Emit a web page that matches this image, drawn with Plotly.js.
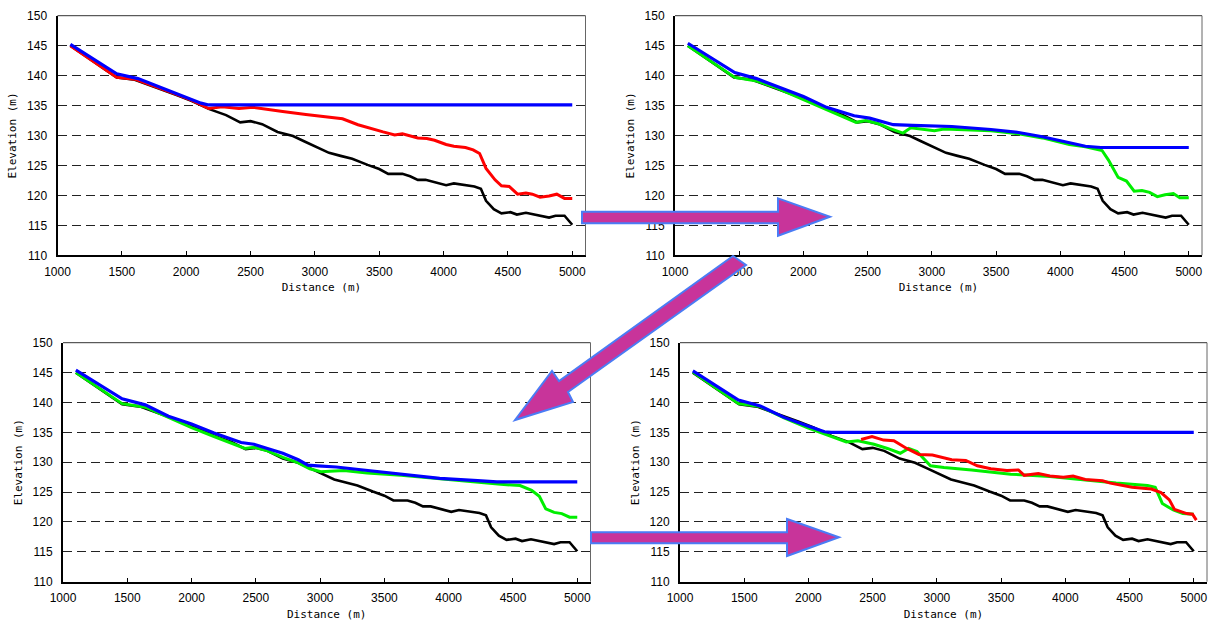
<!DOCTYPE html>
<html>
<head>
<meta charset="utf-8">
<script src="https://cdn.plot.ly/plotly-3.0.1.min.js"></script>
<style>html,body{margin:0;padding:0;background:#fff;}#chart{width:1214px;height:626px;}</style>
</head>
<body>
<div id="chart"></div>
<script>
// ---- Data ----
// River bed profile (black) - same in every panel
var bedDist = [1100,1460,1600,1680,1800,1920,2040,2180,2310,2420,2500,2590,2710,2830,2920,3020,3110,3200,3290,3410,3500,3570,3680,3740,3800,3860,3950,4020,4080,4180,4240,4290,4330,4390,4450,4520,4570,4640,4720,4820,4870,4940,5000];
var bedElev = [145.0,139.7,139.3,138.7,137.8,136.8,135.8,134.4,133.4,132.2,132.4,131.9,130.6,129.9,129.0,128.0,127.1,126.6,126.1,125.1,124.4,123.6,123.6,123.2,122.6,122.6,122.1,121.7,122.0,121.7,121.5,121.1,119.1,117.7,117.0,117.2,116.8,117.1,116.7,116.3,116.6,116.6,115.1];

// Panel 1 (top-left)
var p1BlueDist = [1100,1460,1625,1745,1865,1980,2115,2175,5000];
var p1BlueElev = [145.2,140.3,139.5,138.5,137.6,136.6,135.4,135.1,135.1];
var p1RedDist = [1100,1460,1600,1680,1800,1920,2040,2175,2280,2410,2520,2600,2750,2930,3080,3215,3335,3440,3530,3620,3680,3800,3870,3930,4020,4080,4170,4230,4280,4330,4400,4450,4510,4575,4640,4690,4750,4820,4880,4940,5000];
var p1RedElev = [145.0,139.7,139.4,138.8,137.9,136.9,135.9,134.5,134.8,134.5,134.7,134.5,134.0,133.5,133.1,132.8,131.8,131.1,130.6,130.1,130.3,129.6,129.5,129.2,128.5,128.2,128.0,127.6,127.0,124.5,122.6,121.6,121.5,120.2,120.4,120.2,119.7,119.9,120.2,119.5,119.5];

// Panel 2 (top-right)
var p2BlueDist = [1100,1465,1635,1785,2000,2180,2395,2515,2700,2850,3155,3460,3675,3860,4070,4195,4315,5000];
var p2BlueElev = [145.4,140.5,139.5,138.3,136.5,134.7,133.3,132.9,131.8,131.7,131.5,131.0,130.5,129.8,128.8,128.2,128.0,128.0];
var p2GreenDist = [1100,1465,1635,1785,2000,2180,2410,2485,2580,2670,2775,2835,2915,3020,3095,3310,3460,3675,3860,4070,4195,4325,4375,4450,4515,4575,4635,4695,4755,4815,4880,4930,5000];
var p2GreenElev = [145.0,139.7,139.1,138.0,136.0,134.3,132.2,132.5,132.0,131.2,130.4,131.3,131.1,130.8,131.1,130.9,130.8,130.3,129.6,128.5,128.1,127.5,125.9,123.0,122.4,120.7,120.8,120.5,119.8,120.1,120.3,119.6,119.6];

// Panel 3 (bottom-left)
var p3BlueDist = [1100,1460,1640,1820,2000,2175,2385,2485,2590,2710,2830,2905,2980,3125,3335,3630,3930,4225,4375,5000];
var p3BlueElev = [145.4,140.6,139.6,137.7,136.4,134.9,133.3,133.0,132.3,131.5,130.4,129.5,129.4,129.2,128.7,128.0,127.3,126.9,126.7,126.7];
var p3GreenDist = [1100,1460,1640,1820,2000,2175,2415,2485,2590,2710,2830,2920,3005,3185,3365,3630,3930,4225,4405,4555,4645,4705,4755,4820,4880,4940,5000];
var p3GreenElev = [145.0,139.8,139.2,137.5,135.8,134.3,132.3,132.5,131.9,130.8,129.9,128.9,128.4,128.6,128.2,127.8,127.2,126.6,126.3,126.1,125.3,124.3,122.2,121.6,121.4,120.8,120.8];

// Panel 4 (bottom-right)
var p4BlueDist = [1100,1455,1625,1810,1990,2125,2175,5000];
var p4BlueElev = [145.3,140.4,139.4,137.5,136.1,135.1,135.0,135.0];
var p4GreenDist = [1100,1455,1625,1810,1990,2175,2295,2385,2510,2615,2715,2780,2845,2950,3055,3270,3575,3880,4185,4395,4640,4700,4755,4840,4915,5000];
var p4GreenElev = [145.1,139.8,139.3,137.4,135.8,134.4,133.4,133.6,133.0,132.3,131.5,132.3,131.8,129.4,129.1,128.7,128.0,127.6,126.9,126.5,126.1,125.8,123.1,122.0,121.4,121.3];
var p4RedDist = [2410,2495,2585,2665,2765,2860,2965,3115,3225,3315,3420,3545,3635,3680,3790,3880,3985,4060,4155,4290,4350,4520,4670,4745,4810,4850,4945,4990,5020];
var p4RedElev = [133.8,134.3,133.7,133.6,132.3,131.3,131.2,130.4,130.3,129.4,128.9,128.6,128.7,127.8,128.1,127.7,127.5,127.7,127.1,126.9,126.5,125.8,125.5,124.9,123.7,122.1,121.4,121.3,120.3];

var xTickVals = [1000,1500,2000,2500,3000,3500,4000,4500,5000];
var yTickVals = [110,115,120,125,130,135,140,145,150];
var xTitle = 'Distance (m)';
var yTitle = 'Elevation (m)';

// ---- Layout geometry (pixels) ----
var W = 1214, H = 626;
var panels = [
  {l:57.5, r:585.5, t:15.7, b:255.3},
  {l:675,  r:1202,  t:15.7, b:255.3},
  {l:63,   r:590.5, t:342.7, b:581.7},
  {l:680,  r:1207,  t:342.7, b:581.7}
];

var BLACK='#000000', BLUE='#0000FF', RED='#FF0000', GREEN='#00EE00';
function tr(x, y, color, idx, w) {
  var s = idx === 0 ? '' : String(idx + 1);
  return {x:x, y:y, type:'scatter', mode:'lines', xaxis:'x'+s, yaxis:'y'+s,
          line:{color:color, width:w||3}, showlegend:false, hoverinfo:'skip'};
}
var traces = [
  tr(bedDist, bedElev, BLACK, 0, 2.6), tr(p1RedDist, p1RedElev, RED, 0), tr(p1BlueDist, p1BlueElev, BLUE, 0, 3.2),
  tr(bedDist, bedElev, BLACK, 1, 2.6), tr(p2GreenDist, p2GreenElev, GREEN, 1), tr(p2BlueDist, p2BlueElev, BLUE, 1, 3.2),
  tr(bedDist, bedElev, BLACK, 2, 2.6), tr(p3GreenDist, p3GreenElev, GREEN, 2), tr(p3BlueDist, p3BlueElev, BLUE, 2, 3.2),
  tr(bedDist, bedElev, BLACK, 3, 2.6), tr(p4GreenDist, p4GreenElev, GREEN, 3), tr(p4RedDist, p4RedElev, RED, 3), tr(p4BlueDist, p4BlueElev, BLUE, 3, 3.2)
];

var tickFont = {family:'Liberation Sans, Arial, sans-serif', size:12, color:'#000'};
var titleFont = {family:'DejaVu Sans Mono, monospace', size:11, color:'#000'};

var layout = {
  width:W, height:H, margin:{l:0, r:0, t:0, b:0},
  paper_bgcolor:'#fff', plot_bgcolor:'#fff', showlegend:false,
  shapes:[]
};
panels.forEach(function(p, i) {
  var s = i === 0 ? '' : String(i + 1);
  layout['xaxis'+s] = {
    domain:[p.l/W, p.r/W], anchor:'y'+s, range:[1000, 5103],
    tickvals:xTickVals, ticktext:xTickVals.map(String),
    ticks:'inside', ticklen:4, tickwidth:1, tickcolor:'#000',
    showgrid:false, zeroline:false, showline:true, linecolor:'#000', linewidth:2,
    tickfont:tickFont, ticklabelstandoff:4,
    title:{text:xTitle, font:titleFont, standoff:6}, automargin:false, fixedrange:true
  };
  layout['yaxis'+s] = {
    domain:[1 - p.b/H, 1 - p.t/H], anchor:'x'+s, range:[110, 150],
    tickvals:yTickVals, ticktext:yTickVals.map(String), ticks:'',
    showgrid:true, gridcolor:'#222', gridwidth:1, griddash:'9px,5px',
    zeroline:false, showline:true, linecolor:'#000', linewidth:2,
    tickfont:tickFont, ticklabelstandoff:6,
    title:{text:yTitle, font:titleFont, standoff:8}, automargin:false, fixedrange:true
  };
  // top and right border of the plot area
  layout.shapes.push({type:'line', xref:'x'+s+' domain', yref:'y'+s+' domain', x0:0, x1:1, y0:1, y1:1, line:{color:'#333', width:1}, layer:'above'});
  layout.shapes.push({type:'line', xref:'x'+s+' domain', yref:'y'+s+' domain', x0:1, x1:1, y0:0, y1:1, line:{color:'#666', width:1}, layer:'above'});
});

// ---- Arrows (pixel polygons converted to paper coordinates) ----
var arrowPolys = [
  [[582,211.7],[778,211.7],[778,198.3],[830,216.7],[778,235.7],[778,223.3],[582,223.3]],
  [[733,256],[559,381],[552,371],[515,420],[573,402],[568,392],[746,265]],
  [[591,532.3],[787,532.3],[787,519],[839,537.3],[787,556],[787,543.3],[591,543.3]]
];
arrowPolys.forEach(function(pts) {
  var path = pts.map(function(pt, k) {
    return (k === 0 ? 'M' : 'L') + (pt[0]/W).toFixed(5) + ',' + (1 - pt[1]/H).toFixed(5);
  }).join(' ') + ' Z';
  layout.shapes.push({type:'path', xref:'paper', yref:'paper', path:path,
    fillcolor:'#C8349A', line:{color:'#4A7CF5', width:2}, layer:'above'});
});

Plotly.newPlot('chart', traces, layout, {staticPlot:true, displayModeBar:false});
</script>
</body>
</html>
